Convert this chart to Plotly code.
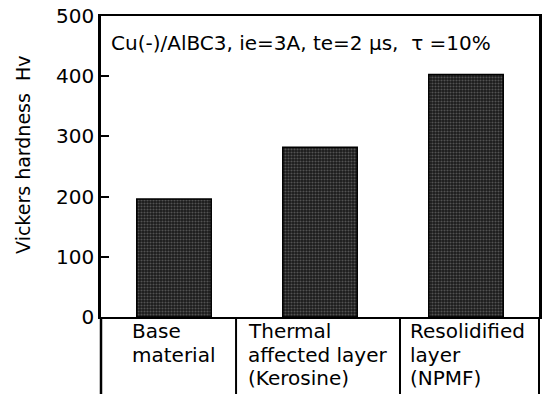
import plotly.graph_objects as go

categories = ["Base<br>material", "Thermal<br>affected layer<br>(Kerosine)", "Resolidified<br>layer<br>(NPMF)"]
hardness = [196, 282, 403]
y_ticks = [0, 100, 200, 300, 400, 500]
title_text = "Cu(-)/AlBC3, ie=3A, te=2 \u03bcs,  \u03c4 =10%"
y_title = "Vickers hardness  Hv"

FONT = "DejaVu Sans, Liberation Sans, Arial, sans-serif"
FS = 20

fig = go.Figure()
fig.add_trace(go.Bar(
    x=list(range(len(categories))),
    y=hardness,
    width=0.51,
    marker=dict(
        color="#1c1c1c",
        line=dict(color="black", width=1.5),
        pattern=dict(shape=".", fgcolor="#8a8a8a", bgcolor="#1a1a1a", size=3, solidity=0.4),
    ),
))

fig.update_layout(
    width=544, height=394,
    margin=dict(l=101, r=2, t=16, b=77),
    paper_bgcolor="white", plot_bgcolor="white",
    showlegend=False,
    font=dict(family=FONT, size=FS, color="black"),
    xaxis=dict(range=[-0.5, 2.5], showticklabels=False, ticks="", showgrid=False,
               zeroline=False, showline=True, linecolor="black", linewidth=2, mirror=True),
    yaxis=dict(range=[0, 500], tickvals=y_ticks, ticks="inside", ticklen=8, tickwidth=2,
               tickcolor="black", showgrid=False, zeroline=False, showline=True,
               linecolor="black", linewidth=2.5, mirror=True,
               tickfont=dict(size=FS)),
)

# y axis title placed as annotation
fig.add_annotation(text=y_title, xref="paper", yref="paper", x=-0.177, y=0.54,
                   textangle=-90, xanchor="center", yanchor="middle", showarrow=False,
                   font=dict(size=19))

fig.add_annotation(text=title_text, xref="paper", yref="paper", x=0.018, y=0.91,
                   xanchor="left", yanchor="middle", showarrow=False, font=dict(size=FS))

# bottom label cell lines
bottom = -0.26
for xp, w in [(0, 2.5), (1, 2)]:
    fig.add_shape(type="line", xref="paper", yref="paper", x0=xp, x1=xp, y0=bottom, y1=0,
                  line=dict(color="black", width=w))
for xs in [0.425, 1.548]:
    fig.add_shape(type="line", xref="x", yref="paper", x0=xs, x1=xs, y0=bottom, y1=0,
                  line=dict(color="black", width=2))

label_x = [0.066, 0.331, 0.70]
line_y = [-0.047, -0.125, -0.203]
for lx, cat in zip(label_x, categories):
    for ly, line in zip(line_y, cat.split("<br>")):
        fig.add_annotation(text=line, xref="paper", yref="paper", x=lx, y=ly,
                           xanchor="left", yanchor="middle", showarrow=False,
                           font=dict(size=FS))

fig.write_html("out.html")
